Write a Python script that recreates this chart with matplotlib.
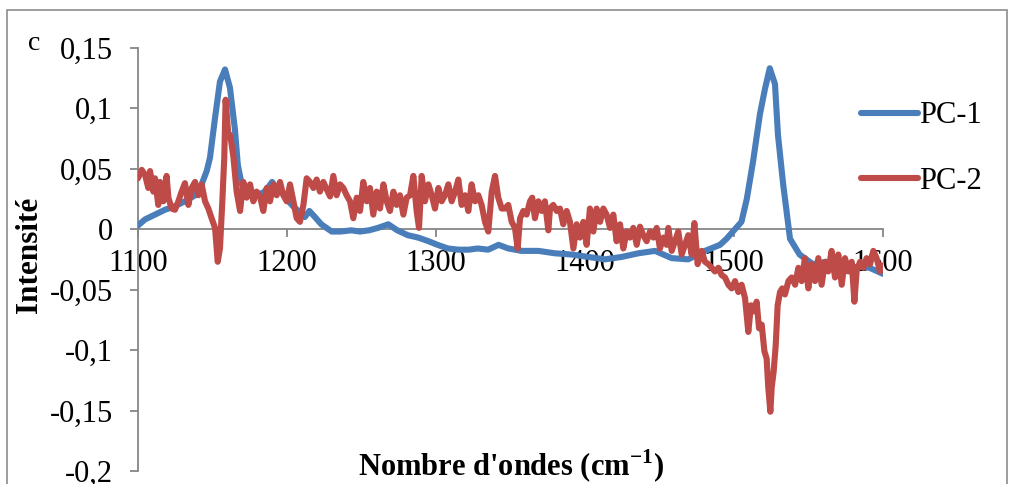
import matplotlib
matplotlib.use("Agg")
import matplotlib.pyplot as plt
from matplotlib.patches import Rectangle

plt.rcParams['font.family'] = ['Liberation Serif', 'DejaVu Serif']
plt.rcParams['mathtext.fontset'] = 'custom'
plt.rcParams['mathtext.rm'] = 'Liberation Serif'
plt.rcParams['mathtext.bf'] = 'Liberation Serif:bold'

# ---- data ----
pc1_x = [1100, 1104.7, 1111.4, 1118.1, 1124.8, 1131.5, 1138.3, 1142.7, 1146.1, 1148.3,
         1151.7, 1155, 1158.4, 1161.7, 1165, 1167, 1169.6, 1172, 1176, 1180, 1184, 1187,
         1190, 1193, 1197, 1201, 1204, 1207.6, 1212, 1215, 1218, 1223, 1230, 1236, 1243,
         1249, 1255, 1261, 1268, 1274, 1281, 1288, 1295, 1301, 1308, 1315, 1322, 1328,
         1335, 1342, 1348.5, 1357.5, 1368.7, 1379.9, 1391, 1402.2, 1413.4, 1424.6, 1435.8,
         1447, 1458.2, 1469.3, 1480.5, 1490.6, 1495, 1500.7, 1505, 1508.6, 1512.8, 1517.4,
         1520.8, 1524, 1527.5, 1529.5, 1533, 1537.6, 1544, 1553, 1562, 1569, 1576, 1584,
         1591, 1600]
pc1_y = [0.003, 0.008, 0.012, 0.016, 0.019, 0.023, 0.028, 0.037, 0.048, 0.059,
         0.092, 0.122, 0.132, 0.117, 0.083, 0.053, 0.037, 0.032, 0.030, 0.029, 0.030, 0.034,
         0.039, 0.034, 0.030, 0.023, 0.019, 0.015, 0.010, 0.015, 0.011, 0.004, -0.002, -0.002, -0.001,
         -0.002, -0.001, 0.001, 0.004, -0.001, -0.005, -0.007, -0.010, -0.013, -0.016, -0.017, -0.017, -0.016,
         -0.017, -0.013, -0.016, -0.018, -0.018, -0.020, -0.021, -0.023, -0.025, -0.023, -0.020,
         -0.018, -0.024, -0.025, -0.018, -0.013, -0.008, 0.000, 0.006, 0.025, 0.056, 0.095,
         0.116, 0.133, 0.120, 0.078, 0.037, -0.008, -0.021, -0.029, -0.027, -0.030, -0.032, -0.031,
         -0.032, -0.037]

pc2_x = [1100, 1102.5, 1104.7, 1106.9, 1108.1, 1110.3, 1111.4, 1113.6, 1114.8, 1117.0,
         1119.2, 1120.4, 1122.6, 1124.8, 1127.1, 1129.3, 1131.5, 1133.8, 1136.0, 1138.3,
         1140.5, 1142.7, 1145.0, 1147.2, 1149.4, 1151.7, 1153.5, 1155.0, 1156.6, 1157.9,
         1158.8, 1160.5, 1162.0, 1164.0, 1166.2, 1168.5, 1170.7, 1172.9, 1175.2, 1177.4,
         1179.6, 1181.9, 1184.1, 1186.4, 1188.6, 1190.8, 1193.1, 1195.3, 1197.5, 1199.8,
         1202.0, 1204.3, 1206.5, 1208.7, 1211.0, 1213.2, 1215.4, 1217.7, 1219.9, 1222.1,
         1224.4, 1226.6, 1228.9, 1231.1, 1233.3, 1235.6, 1237.8, 1240.0, 1242.3, 1244.5,
         1246.8, 1249.0, 1251.2, 1253.5, 1255.7, 1257.9, 1260.2, 1262.4, 1264.7, 1266.9,
         1269.1, 1271.4, 1273.6, 1275.8, 1278.1, 1280.3, 1282.6, 1284.8, 1287.0, 1288.6,
         1290.4, 1292.6, 1294.9, 1297.1, 1299.3, 1301.6, 1303.8, 1306.0, 1308.3, 1310.5,
         1312.8, 1315.0, 1317.2, 1319.5, 1321.7, 1323.9, 1326.2, 1328.4, 1330.6, 1332.9,
         1335.1, 1337.4, 1339.6, 1341.8, 1344.1, 1346.3, 1348.5, 1350.8, 1353.0, 1354.8,
         1356.4, 1358.6, 1360.8, 1363.1, 1364.6, 1366.4, 1368.7, 1370.9, 1373.1, 1375.4,
         1376.5, 1378.7, 1381.0, 1383.2, 1385.4, 1387.7, 1389.9, 1392.2, 1394.4, 1396.6,
         1398.9, 1401.1, 1403.3, 1405.6, 1407.8, 1410.1, 1412.3, 1414.5, 1416.8, 1419.0,
         1421.2, 1423.5, 1425.7, 1428.0, 1430.2, 1432.4, 1434.7, 1436.9, 1439.1, 1441.4,
         1443.6, 1445.9, 1448.1, 1450.3, 1452.6, 1454.8, 1455.9, 1458.2, 1460.4, 1462.6,
         1464.9, 1467.1, 1469.3, 1471.6, 1473.4, 1475.6, 1478.3, 1480.5, 1482.8, 1485.0,
         1487.2, 1489.5, 1491.7, 1494.0, 1496.2, 1498.4, 1500.7, 1502.9, 1505.1, 1507.4,
         1509.6, 1511.4, 1513.6, 1515.2, 1516.8, 1518.6, 1520.4, 1521.9, 1523.0, 1524.4,
         1525.3, 1526.6, 1528.0, 1529.3, 1530.9, 1532.4, 1534.2, 1536.5, 1538.7, 1541.0,
         1543.2, 1545.4, 1547.6, 1549.9, 1552.1, 1554.4, 1556.6, 1558.8, 1561.1, 1563.3,
         1565.5, 1567.8, 1570.0, 1572.3, 1574.5, 1576.7, 1579.0, 1580.8, 1582.3, 1584.6,
         1586.8, 1589.0, 1591.3, 1593.5, 1595.7, 1598.0, 1600.0]
pc2_y = [0.042, 0.049, 0.045, 0.034, 0.048, 0.031, 0.042, 0.020, 0.039, 0.023,
         0.044, 0.026, 0.017, 0.016, 0.023, 0.031, 0.038, 0.020, 0.034, 0.039,
         0.028, 0.037, 0.023, 0.017, 0.009, 0.001, -0.027, -0.016, 0.023, 0.059,
         0.107, 0.080, 0.077, 0.060, 0.031, 0.015, 0.039, 0.026, 0.037, 0.023,
         0.031, 0.027, 0.015, 0.034, 0.023, 0.037, 0.028, 0.039, 0.028, 0.023,
         0.037, 0.023, 0.009, 0.006, 0.020, 0.042, 0.039, 0.034, 0.041, 0.031,
         0.039, 0.033, 0.027, 0.044, 0.028, 0.037, 0.034, 0.028, 0.023, 0.009,
         0.026, 0.015, 0.039, 0.023, 0.034, 0.012, 0.031, 0.017, 0.037, 0.023,
         0.015, 0.031, 0.020, 0.028, 0.012, 0.026, 0.028, 0.044, 0.015, 0.001,
         0.044, 0.023, 0.037, 0.028, 0.017, 0.034, 0.023, 0.028, 0.037, 0.023,
         0.031, 0.041, 0.020, 0.028, 0.015, 0.037, 0.023, 0.028, 0.020, 0.006,
         -0.002, 0.031, 0.044, 0.026, 0.017, 0.017, 0.020, 0.006, 0.001, -0.016,
         0.009, 0.015, 0.012, 0.023, 0.026, 0.009, 0.023, 0.015, 0.023, -0.001,
         0.017, 0.020, 0.015, 0.017, 0.004, 0.015, 0.006, -0.016, 0.004, -0.007,
         0.006, -0.013, 0.017, -0.002, 0.017, 0.006, 0.017, 0.012, 0.001, 0.012,
         -0.010, 0.004, -0.016, -0.002, -0.007, 0.001, -0.013, 0.002, -0.005, -0.010,
         -0.002, -0.007, 0.001, -0.016, -0.007, -0.013, 0.001, -0.018, -0.010, -0.002,
         -0.021, -0.013, -0.005, -0.021, 0.005, -0.029, -0.018, -0.027, -0.029, -0.032,
         -0.035, -0.032, -0.038, -0.040, -0.046, -0.049, -0.043, -0.052, -0.046, -0.057,
         -0.085, -0.063, -0.068, -0.060, -0.082, -0.079, -0.101, -0.107, -0.131, -0.151,
         -0.131, -0.118, -0.096, -0.063, -0.052, -0.049, -0.054, -0.043, -0.040, -0.046,
         -0.032, -0.043, -0.024, -0.049, -0.029, -0.043, -0.024, -0.046, -0.027, -0.035,
         -0.018, -0.040, -0.021, -0.046, -0.024, -0.035, -0.027, -0.060, -0.035, -0.027,
         -0.032, -0.024, -0.029, -0.018, -0.024, -0.035, -0.030]

x_ticks = [1100, 1200, 1300, 1400, 1500, 1600]
y_ticks = [-0.2, -0.15, -0.1, -0.05, 0, 0.05, 0.1, 0.15]
y_tick_labels = ['-0,2', '-0,15', '-0,1', '-0,05', '0', '0,05', '0,1', '0,15']
series_labels = ['PC-1', 'PC-2']
colors = ['#4A7EBB', '#BE4B48']

# ---- figure ----
W, H = 1012, 484
fig = plt.figure(figsize=(W / 100, H / 100), dpi=100)
ax = fig.add_axes([138 / W, 1 - 471 / H, (883 - 138) / W, (471 - 47.7) / H])

ax.plot(pc1_x, pc1_y, color=colors[0], lw=4.4, solid_capstyle='round',
        solid_joinstyle='round', label=series_labels[0], zorder=3)
ax.plot(pc2_x, pc2_y, color=colors[1], lw=4.4, solid_capstyle='round',
        solid_joinstyle='round', label=series_labels[1], zorder=4)

ax.set_xlim(1100, 1600)
ax.set_ylim(-0.2, 0.15)
ax.set_xticks(x_ticks)
ax.set_xticklabels([str(t) for t in x_ticks])
ax.set_yticks(y_ticks)
ax.set_yticklabels(y_tick_labels)

grey = '#868686'
for s in ['top', 'right']:
    ax.spines[s].set_visible(False)
ax.spines['bottom'].set_position(('data', 0))
ax.spines['bottom'].set_color(grey)
ax.spines['left'].set_color(grey)
ax.spines['bottom'].set_linewidth(1.3)
ax.spines['left'].set_linewidth(1.3)
ax.spines['bottom'].set_zorder(1)
ax.tick_params(axis='both', direction='out', length=6, width=1.3, color=grey,
               labelsize=22, labelcolor='black')
ax.tick_params(axis='x', pad=8)
ax.tick_params(axis='y', pad=12)

fig.text(30 / W, 1 - 255 / H, 'Intensité', rotation=90, fontsize=22.5,
         fontweight='bold', ha='center', va='center')
fig.text(511 / W, 1 - 466 / H, r"Nombre d'ondes (cm$^{\mathbf{-1}}$)", fontsize=22,
         fontweight='bold', ha='center', va='center')
fig.text(34 / W, 1 - 44 / H, 'c', fontsize=20, ha='center', va='center')

leg = ax.legend(loc='upper left', bbox_to_anchor=(849 / W, 1 - 89 / H),
                bbox_transform=fig.transFigure, frameon=False, fontsize=22,
                handlelength=1.85, handletextpad=0.05, labelspacing=1.2,
                borderaxespad=0)

fig.patches.append(Rectangle((7 / W, -0.01), (1007 - 7) / W, 1 - 10 / H + 0.01,
                             transform=fig.transFigure, fill=False,
                             edgecolor='#8C8C8C', lw=1.2))

fig.savefig('out.png', dpi=100)
